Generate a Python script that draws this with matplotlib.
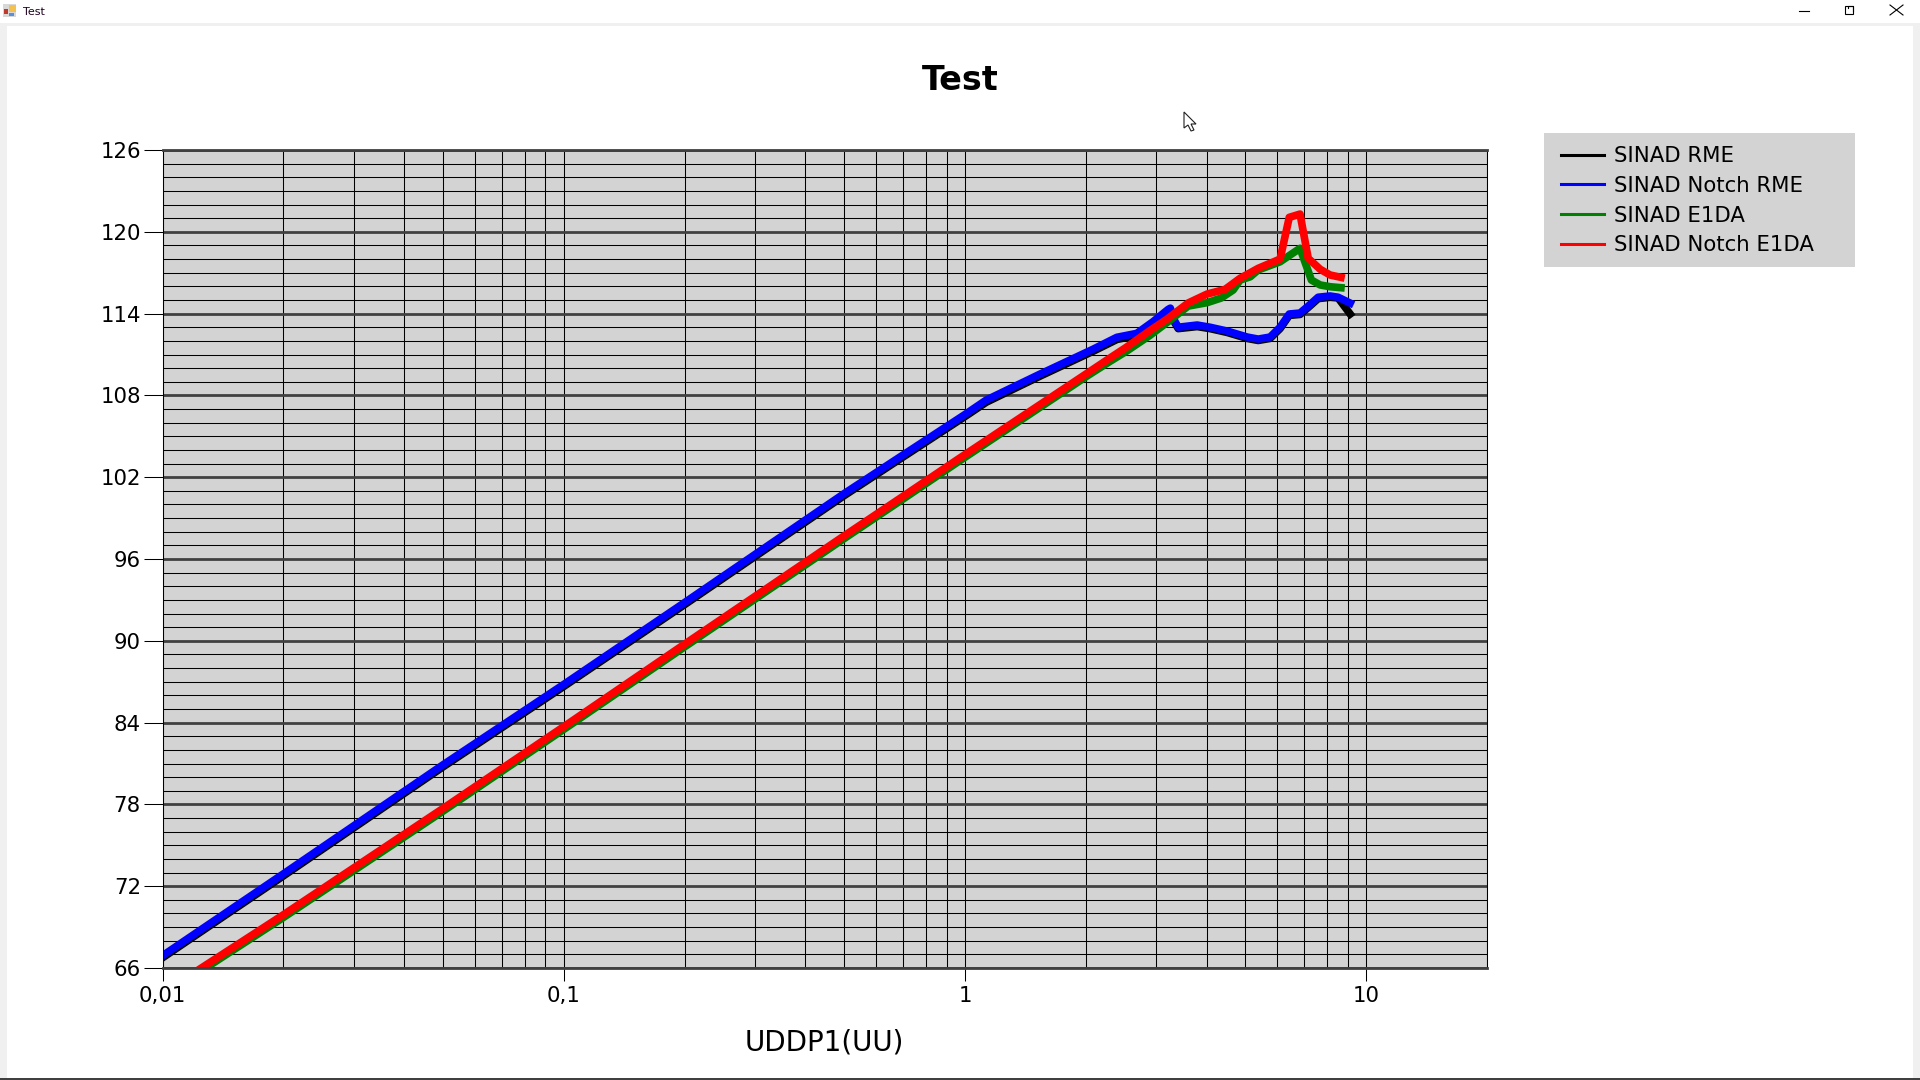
import matplotlib
matplotlib.use('Agg')
import matplotlib.pyplot as plt
from matplotlib.lines import Line2D
from matplotlib.patches import Rectangle, Polygon

plt.rcParams['font.family'] = ['DejaVu Sans']

# values
x_rme = [0.01, 0.02, 0.05, 0.1, 0.2, 0.5, 0.69, 1.0, 1.13, 1.54, 2.09, 2.39, 2.68, 2.94, 3.21, 3.25,
         3.30, 3.40, 3.79, 4.08, 4.50, 5.05, 5.38, 5.76, 6.10, 6.43, 6.84, 7.17, 7.59, 8.13, 8.51, 9.12]
sinad_notch_rme = [66.9, 72.9, 80.9, 86.8, 92.8, 100.8, 103.5, 106.6, 107.66, 109.57, 111.4, 112.26, 112.55, 113.4, 114.31, 114.4,
                   113.67, 113.0, 113.16, 113.0, 112.72, 112.28, 112.13, 112.28, 113.0, 113.97, 114.04, 114.55, 115.2, 115.29, 115.2, 114.77]
sinad_rme = [66.75, 72.75, 80.75, 86.65, 92.65, 100.65, 103.35, 106.45, 107.5, 109.42, 111.25, 112.1, 112.4, 113.25, 114.15, 114.25,
             113.55, 112.9, 113.05, 112.9, 112.62, 112.18, 112.03, 112.18, 112.9, 113.87, 113.94, 114.45, 115.1, 115.2, 115.15, 113.97]

x_e1da = [0.0125, 0.02, 0.05, 0.1035, 0.2, 0.5, 0.689, 0.953, 2.01, 2.30, 2.53, 2.89, 3.19, 3.60, 4.01, 4.45,
          4.85, 5.38, 6.10, 6.43, 6.84, 7.17, 7.68, 8.13, 8.65]
sinad_notch_e1da = [66.0, 69.9, 77.7, 84.0, 89.75, 97.7, 100.45, 103.25, 109.6, 110.75, 111.55, 112.75, 113.6, 114.78, 115.43, 115.78,
                    116.59, 117.32, 118.0, 121.06, 121.3, 118.05, 117.25, 116.83, 116.66]

x_green = [0.0125, 0.02, 0.05, 0.1035, 0.2, 0.5, 0.689, 0.953, 2.01, 2.30, 2.53, 2.89, 3.19, 3.60, 4.01, 4.35,
           4.66, 4.85, 5.14, 5.38, 6.10, 6.84, 7.30, 7.68, 8.13, 8.65]
sinad_e1da = [65.8, 69.7, 77.5, 83.8, 89.55, 97.5, 100.25, 103.05, 109.4, 110.5, 111.25, 112.4, 113.35, 114.55, 114.8, 115.14,
              115.73, 116.46, 116.7, 117.2, 117.8, 118.79, 116.46, 116.1, 115.97, 115.9]

x_ticks = [0.01, 0.1, 1, 10]
x_tick_labels = ['0,01', '0,1', '1', '10']
x_minor = [m * d for d in (0.01, 0.1, 1) for m in range(2, 10)] + [20]
y_ticks = list(range(66, 127, 6))
y_minor = list(range(66, 127))

W, H = 1920, 1080


def fx(px):
    return px / W


def fy(py):
    return 1 - py / H


fig = plt.figure(figsize=(19.2, 10.8), dpi=100, facecolor='white')

# window frame around the chart
chrome = '#f0f0f0'
fig.add_artist(Rectangle((0, fy(26)), 1, 3 / H, transform=fig.transFigure, color=chrome, lw=0))
fig.add_artist(Rectangle((0, 0), 7 / W, fy(26), transform=fig.transFigure, color=chrome, lw=0))
fig.add_artist(Rectangle((fx(1913), 0), 7 / W, fy(26), transform=fig.transFigure, color=chrome, lw=0))
fig.add_artist(Rectangle((0, 0), 1, 2 / H, transform=fig.transFigure, color='#404040', lw=0))
# icon
for bx, by, bw, bh, c in [(3, 4, 13, 13, '#d8d8d8'), (9, 5, 7, 7, '#f2c14e'), (4, 9, 4, 5, '#c0392b'), (9, 13, 5, 3, '#5b8fd9')]:
    fig.add_artist(Rectangle((fx(bx), fy(by + bh)), bw / W, bh / H, transform=fig.transFigure, color=c, lw=0))
fig.text(fx(23), fy(12), 'Test', fontsize=8, va='center', ha='left', color='#200020')
# window buttons
for xs, ys in [((1799, 1809), (10.5, 10.5)), ((1890, 1903), (5, 15)), ((1890, 1903), (15, 5))]:
    fig.add_artist(Line2D([fx(v) for v in xs], [fy(v) for v in ys], color='black', lw=0.8))
fig.add_artist(Rectangle((fx(1845), fy(14)), 8 / W, 8 / H, transform=fig.transFigure, fill=False, ec='black', lw=0.8))
fig.add_artist(Line2D([fx(1848), fx(1848), fx(1853), fx(1853)], [fy(8), fy(6), fy(6), fy(11)], color='black', lw=0.8))
# mouse pointer
cursor = [(1184, 112), (1184, 128), (1188, 125), (1191, 131), (1194, 130), (1191, 124), (1196, 124)]
fig.add_artist(Polygon([(fx(a), fy(b)) for a, b in cursor], closed=True, transform=fig.transFigure,
                       fc='white', ec='#202020', lw=0.8))

ax = fig.add_axes([fx(162.5), fy(968), 1324.5 / W, 818 / H], facecolor='lightgray')
ax.set_xscale('log')
ax.set_xlim(0.01, 20)
ax.set_ylim(66, 126)

ax.set_xticks(x_ticks)
ax.set_xticklabels(x_tick_labels)
ax.set_xticks(x_minor, minor=True)
ax.set_xticklabels([], minor=True)
ax.set_yticks(y_ticks)
ax.set_yticks(y_minor, minor=True)

ax.grid(True, which='major', axis='y', color='#404040', lw=2)
ax.grid(True, which='minor', axis='y', color='black', lw=0.75)
ax.grid(True, which='both', axis='x', color='black', lw=0.75)
ax.set_axisbelow(True)
ax.tick_params(axis='x', which='major', length=9, width=0.75, labelsize=15.3, pad=4)
ax.tick_params(axis='y', which='major', length=14, width=0.75, labelsize=15.3, pad=1.5)
ax.tick_params(which='minor', length=0)

for side in ('top', 'bottom'):
    ax.spines[side].set_color('#404040')
    ax.spines[side].set_linewidth(2)
for side in ('left', 'right'):
    ax.spines[side].set_color('black')
    ax.spines[side].set_linewidth(0.75)

lw = 5.5
ax.plot(x_rme, sinad_rme, color='black', lw=lw, solid_joinstyle='round')
ax.plot(x_rme, sinad_notch_rme, color='blue', lw=lw, solid_joinstyle='round')
ax.plot(x_green, sinad_e1da, color='green', lw=lw, solid_joinstyle='round')
ax.plot(x_e1da, sinad_notch_e1da, color='red', lw=lw, solid_joinstyle='round')

fig.text(fx(960), fy(80), 'Test', fontsize=24, fontweight='bold', ha='center', va='center', color='black')
fig.text(fx(824), fy(1043), 'UDDP1(UU)', fontsize=20, ha='center', va='center', color='black')

# legend box is wider than its entries, so the grey panel is drawn on its own
fig.add_artist(Rectangle((fx(1544), fy(267)), 311 / W, 134 / H, transform=fig.transFigure, color='lightgray', lw=0))
handles = [Line2D([], [], color=c, lw=2.2) for c in ('black', 'blue', 'green', 'red')]
labels = ['SINAD RME', 'SINAD Notch RME', 'SINAD E1DA', 'SINAD Notch E1DA']
fig.legend(handles, labels, loc='upper left', bbox_to_anchor=(fx(1561), fy(146)), borderaxespad=0,
           frameon=False, fontsize=15.3, handlelength=2.0, handletextpad=0.5, labelspacing=0.46, borderpad=0)

fig.savefig('out.png', dpi=100)
